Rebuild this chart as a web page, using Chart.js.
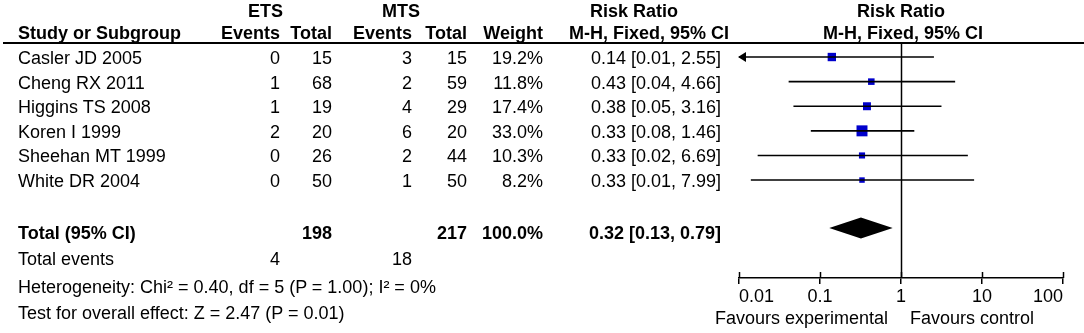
<!DOCTYPE html>
<html>
<head>
<meta charset="utf-8">
<script src="https://cdn.jsdelivr.net/npm/chart.js@4.4.1/dist/chart.umd.min.js"></script>
<style>
html, body { margin: 0; padding: 0; background: #fff; }
#wrap { position: relative; width: 1084px; height: 333px; overflow: hidden;
        font-family: "Liberation Sans", Arial, sans-serif; font-size: 18px; color: #000; }
#wrap canvas { position: absolute; left: 0; top: 0; }
.t { position: absolute; white-space: nowrap; line-height: 24px; height: 24px; }
.b { font-weight: bold; }
#hline { position: absolute; left: 3px; top: 42px; width: 1081px; height: 1.5px; background: #000; }
</style>
</head>
<body>
<div id="wrap">
  <canvas id="forest" width="1084" height="333"></canvas>
  <div id="hline"></div>
</div>
<script>
// study data
var studies = ['Casler JD 2005', 'Cheng RX 2011', 'Higgins TS 2008', 'Koren I 1999', 'Sheehan MT 1999', 'White DR 2004'];
var etsEvents = [0, 1, 1, 2, 0, 0];
var etsTotal = [15, 68, 19, 20, 26, 50];
var mtsEvents = [3, 2, 4, 6, 2, 1];
var mtsTotal = [15, 59, 29, 20, 44, 50];
var weights = [19.2, 11.8, 17.4, 33.0, 10.3, 8.2];
var riskRatio = [0.14, 0.43, 0.38, 0.33, 0.33, 0.33];
var ciLower = [0.0077, 0.041, 0.047, 0.077, 0.017, 0.014];
var ciUpper = [2.55, 4.66, 3.16, 1.46, 6.69, 7.99];
var ciText = ['0.14 [0.01, 2.55]', '0.43 [0.04, 4.66]', '0.38 [0.05, 3.16]',
              '0.33 [0.08, 1.46]', '0.33 [0.02, 6.69]', '0.33 [0.01, 7.99]'];

// pooled result
var totalWeight = '100.0%';
var totalRR = 0.32;
var totalLower = 0.13;
var totalUpper = 0.79;
var totalText = '0.32 [0.13, 0.79]';
var heterogeneityText = 'Heterogeneity: Chi² = 0.40, df = 5 (P = 1.00); I² = 0%';
var overallText = 'Test for overall effect: Z = 2.47 (P = 0.01)';

// axis
var tickValues = [0.01, 0.1, 1, 10, 100];
var tickLabels = ['0.01', '0.1', '1', '10', '100'];
var favoursLeft = 'Favours experimental';
var favoursRight = 'Favours control';

var wrap = document.getElementById('wrap');

// put a text item; align = 'l' (x is left edge), 'r' (x is right edge)
function put(text, x, yMid, align, bold) {
    var d = document.createElement('div');
    d.className = 't' + (bold ? ' b' : '');
    d.textContent = text;
    d.style.top = (yMid - 12) + 'px';
    if (align === 'r') {
        d.style.right = (1084 - x) + 'px';
    } else {
        d.style.left = x + 'px';
    }
    wrap.appendChild(d);
}

// header
put('ETS', 248, 11, 'l', true);
put('MTS', 382, 11, 'l', true);
put('Risk Ratio', 590, 11, 'l', true);
put('Risk Ratio', 857, 11, 'l', true);
put('Study or Subgroup', 18, 33, 'l', true);
put('Events', 280, 33, 'r', true);
put('Total', 332, 33, 'r', true);
put('Events', 412, 33, 'r', true);
put('Total', 467, 33, 'r', true);
put('Weight', 543, 33, 'r', true);
put('M-H, Fixed, 95% CI', 569, 33, 'l', true);
put('M-H, Fixed, 95% CI', 823, 33, 'l', true);

// study rows
for (let i = 0; i < studies.length; i++) {
    let y = 58 + 24.6 * i;
    put(studies[i], 18, y, 'l');
    put(String(etsEvents[i]), 280, y, 'r');
    put(String(etsTotal[i]), 332, y, 'r');
    put(String(mtsEvents[i]), 412, y, 'r');
    put(String(mtsTotal[i]), 467, y, 'r');
    put(weights[i].toFixed(1) + '%', 543, y, 'r');
    put(ciText[i], 721, y, 'r');
}

let sumEts = etsTotal.reduce(function (a, b) { return a + b; }, 0);
let sumMts = mtsTotal.reduce(function (a, b) { return a + b; }, 0);
let evEts = etsEvents.reduce(function (a, b) { return a + b; }, 0);
let evMts = mtsEvents.reduce(function (a, b) { return a + b; }, 0);

put('Total (95% CI)', 18, 233, 'l', true);
put(String(sumEts), 332, 233, 'r', true);
put(String(sumMts), 467, 233, 'r', true);
put(totalWeight, 543, 233, 'r', true);
put(totalText, 721, 233, 'r', true);
put('Total events', 18, 259, 'l');
put(String(evEts), 280, 259, 'r');
put(String(evMts), 412, 259, 'r');
put(heterogeneityText, 18, 287, 'l');
put(overallText, 18, 313, 'l');
put(favoursLeft, 888, 318, 'r');
put(favoursRight, 910, 318, 'l');

// extra drawing: line of no effect, inner tick halves, arrows, pooled diamond
var forestExtras = {
    id: 'forestExtras',
    afterDatasetsDraw: function (chart) {
        let ctx = chart.ctx;
        let xs = chart.scales.x;
        let ys = chart.scales.y;
        let area = chart.chartArea;
        ctx.save();
        ctx.strokeStyle = '#000';
        ctx.fillStyle = '#000';
        ctx.lineWidth = 1.5;

        let x1 = Math.round(xs.getPixelForValue(1)) + 0.5;
        ctx.beginPath();
        ctx.moveTo(x1, area.top);
        ctx.lineTo(x1, area.bottom);
        ctx.stroke();

        tickValues.forEach(function (v) {
            let px = Math.round(xs.getPixelForValue(v)) + 0.5;
            ctx.beginPath();
            ctx.moveTo(px, area.bottom - 6);
            ctx.lineTo(px, area.bottom);
            ctx.stroke();
        });

        for (let i = 0; i < ciLower.length; i++) {
            if (ciLower[i] < xs.min) {
                let py = ys.getPixelForValue(i);
                ctx.beginPath();
                ctx.moveTo(area.left - 1, py);
                ctx.lineTo(area.left + 7, py - 5);
                ctx.lineTo(area.left + 7, py + 5);
                ctx.closePath();
                ctx.fill();
            }
        }

        let dy = ys.getPixelForValue(studies.length + 0.95);
        let dl = xs.getPixelForValue(totalLower);
        let dm = xs.getPixelForValue(totalRR);
        let dr = xs.getPixelForValue(totalUpper);
        ctx.beginPath();
        ctx.moveTo(dl, dy);
        ctx.lineTo(dm, dy - 10.5);
        ctx.lineTo(dr, dy);
        ctx.lineTo(dm, dy + 10.5);
        ctx.closePath();
        ctx.fill();
        ctx.restore();
    }
};

let datasets = [];
for (let i = 0; i < studies.length; i++) {
    datasets.push({
        type: 'line',
        data: [{ x: ciLower[i], y: i }, { x: ciUpper[i], y: i }],
        borderColor: '#000',
        borderWidth: 1.6,
        pointRadius: 0,
        fill: false
    });
}
datasets.push({
    type: 'scatter',
    data: riskRatio.map(function (v, i) { return { x: v, y: i }; }),
    pointStyle: 'rect',
    pointRadius: weights.map(function (w) { return 1.91 * Math.sqrt(w) / Math.SQRT2; }),
    backgroundColor: '#0000cc',
    borderWidth: 0
});

new Chart(document.getElementById('forest').getContext('2d'), {
    type: 'scatter',
    data: { datasets: datasets },
    options: {
        responsive: false,
        animation: false,
        events: [],
        layout: { padding: { left: 739, right: 21, top: 43, bottom: 23.4 } },
        plugins: { legend: { display: false }, tooltip: { enabled: false } },
        scales: {
            x: {
                type: 'logarithmic',
                min: 0.01,
                max: 100,
                position: 'bottom',
                afterBuildTicks: function (scale) {
                    scale.ticks = tickValues.map(function (v) { return { value: v }; });
                },
                ticks: {
                    color: '#000',
                    font: { family: 'Liberation Sans', size: 18 },
                    padding: 2,
                    align: 'inner',
                    autoSkip: false,
                    maxRotation: 0,
                    callback: function (value, index) { return tickLabels[index]; }
                },
                grid: { drawOnChartArea: false, drawTicks: true, tickLength: 6, color: '#000', lineWidth: 1.5 },
                border: { display: true, color: '#000', width: 1.5 }
            },
            y: {
                type: 'linear',
                reverse: true,
                min: -0.57,
                max: 8.98,
                display: false
            }
        }
    },
    plugins: [forestExtras]
});
</script>
</body>
</html>
